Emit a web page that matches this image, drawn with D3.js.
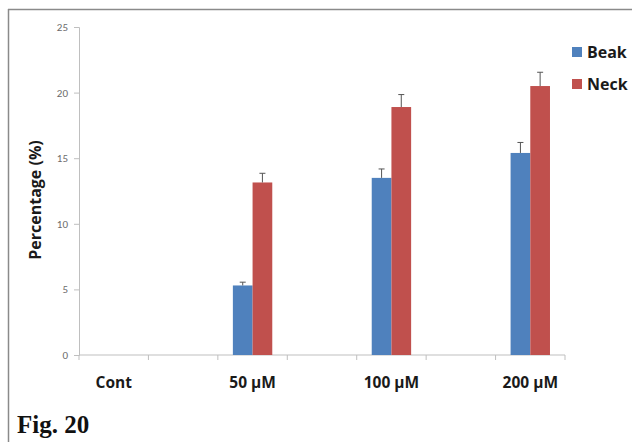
<!DOCTYPE html>
<html>
<head>
<meta charset="utf-8">
<script src="https://cdn.jsdelivr.net/npm/d3@7"></script>
<style>
  body { margin: 0; background: #fff; }
  svg { display: block; }
</style>
</head>
<body>
<div id="chart"></div>
<script>
const WIDTH = 632, HEIGHT = 442;
const margin = {top: 27, right: 67, bottom: 87, left: 79};

// categories (blank slots between the doses, as in the original)
const categories = ["Cont", "gap1", "50 µM", "gap2", "100 µM", "gap3", "200 µM"];
const doses = ["Cont", "50 µM", "100 µM", "200 µM"];
const series = ["Beak", "Neck"];
const beakValues = [0, 5.3, 13.5, 15.4];
const neckValues = [0, 13.15, 18.9, 20.5];
const beakErr = [0, 0.25, 0.68, 0.8];
const neckErr = [0, 0.7, 0.95, 1.05];
const yTicks = [0, 5, 10, 15, 20, 25];
const colors = ["#4f81bd", "#c0504d"];

let svg = d3.select("#chart")
    .append("svg")
    .attr("width", WIDTH)
    .attr("height", HEIGHT);

// frame (top and left edges visible)
svg.append("line").attr("x1", 8).attr("x2", WIDTH).attr("y1", 9.5).attr("y2", 9.5)
    .attr("stroke", "#8a8a8a").attr("stroke-width", 1.5);
svg.append("line").attr("x1", 8.5).attr("x2", 8.5).attr("y1", 9).attr("y2", HEIGHT)
    .attr("stroke", "#8a8a8a").attr("stroke-width", 1.5);

let innerW = WIDTH - margin.left - margin.right;   // ~486
let innerH = HEIGHT - margin.top - margin.bottom;  // ~328

let g = svg.append("g").attr("transform", `translate(${margin.left}, ${margin.top})`);

let x = d3.scaleBand().domain(categories).range([0, innerW]).padding(0);
let sub = d3.scaleBand().domain(series).range([0, 39.4]);
let y = d3.scaleLinear().domain([0, 25]).range([innerH, 0]);

// y axis
let yAxis = g.append("g")
    .call(d3.axisLeft(y).tickValues(yTicks).tickSize(5).tickPadding(6));
yAxis.select(".domain").attr("stroke", "#bfbfbf");
yAxis.selectAll(".tick line").attr("stroke", "#bfbfbf");
yAxis.selectAll(".tick text")
    .attr("fill", "#6b6b6b")
    .style("font-family", "Calibri, Carlito, 'Open Sans', sans-serif")
    .style("font-size", "11px");

// x axis: ticks at the band edges
let xAxis = g.append("g").attr("transform", `translate(0, ${innerH})`);
xAxis.append("line").attr("x1", 0).attr("x2", innerW).attr("stroke", "#bfbfbf");
let edges = categories.map(c => x(c)).concat([innerW]);
xAxis.selectAll("line.tk").data(edges).enter().append("line")
    .attr("class", "tk")
    .attr("x1", d => d).attr("x2", d => d)
    .attr("y1", 0).attr("y2", 5)
    .attr("stroke", "#bfbfbf");
xAxis.selectAll("text").data(doses).enter().append("text")
    .attr("x", d => x(d) + x.bandwidth() / 2)
    .attr("y", 33)
    .attr("text-anchor", "middle")
    .style("font-family", "'Open Sans', sans-serif")
    .style("font-weight", "bold")
    .style("font-size", "15.5px")
    .attr("fill", "#1a1a1a")
    .text(d => d);

// bars
let rows = [];
doses.forEach((d, i) => {
    rows.push({cat: d, s: "Beak", v: beakValues[i], e: beakErr[i], c: colors[0]});
    rows.push({cat: d, s: "Neck", v: neckValues[i], e: neckErr[i], c: colors[1]});
});
let shown = rows.filter(r => r.v > 0);
let groupOff = (x.bandwidth() - 39.4) / 2;

g.selectAll("rect.bar").data(shown).enter().append("rect")
    .attr("class", "bar")
    .attr("x", d => x(d.cat) + groupOff + sub(d.s))
    .attr("y", d => y(d.v))
    .attr("width", sub.bandwidth())
    .attr("height", d => innerH - y(d.v))
    .attr("fill", d => d.c);

// error bars (upper only)
let eb = g.selectAll("g.err").data(shown).enter().append("g").attr("class", "err");
eb.append("line")
    .attr("x1", d => x(d.cat) + groupOff + sub(d.s) + sub.bandwidth() / 2)
    .attr("x2", d => x(d.cat) + groupOff + sub(d.s) + sub.bandwidth() / 2)
    .attr("y1", d => y(d.v))
    .attr("y2", d => y(d.v + d.e))
    .attr("stroke", "#555").attr("stroke-width", 1);
eb.append("line")
    .attr("x1", d => x(d.cat) + groupOff + sub(d.s) + sub.bandwidth() / 2 - 3)
    .attr("x2", d => x(d.cat) + groupOff + sub(d.s) + sub.bandwidth() / 2 + 3)
    .attr("y1", d => y(d.v + d.e))
    .attr("y2", d => y(d.v + d.e))
    .attr("stroke", "#555").attr("stroke-width", 1);

// y axis title
svg.append("text")
    .attr("transform", `translate(41, 200) rotate(-90)`)
    .attr("text-anchor", "middle")
    .style("font-family", "'Open Sans', sans-serif")
    .style("font-weight", "bold")
    .style("font-size", "16px")
    .attr("fill", "#1a1a1a")
    .text("Percentage (%)");

// legend
let legend = svg.append("g").attr("transform", "translate(572, 47)");
series.forEach((s, i) => {
    legend.append("rect").attr("x", 0).attr("y", i * 32).attr("width", 10).attr("height", 10)
        .attr("fill", colors[i]);
    legend.append("text").attr("x", 15).attr("y", i * 32 + 11)
        .style("font-family", "'Open Sans', sans-serif")
        .style("font-weight", "bold")
        .style("font-size", "16px")
        .attr("fill", "#1a1a1a")
        .text(s);
});

// figure label
svg.append("text")
    .attr("x", 17).attr("y", 433)
    .style("font-family", "'Liberation Serif', 'Times New Roman', serif")
    .style("font-weight", "bold")
    .style("font-size", "25px")
    .attr("fill", "#111")
    .text("Fig. 20");
</script>
</body>
</html>
